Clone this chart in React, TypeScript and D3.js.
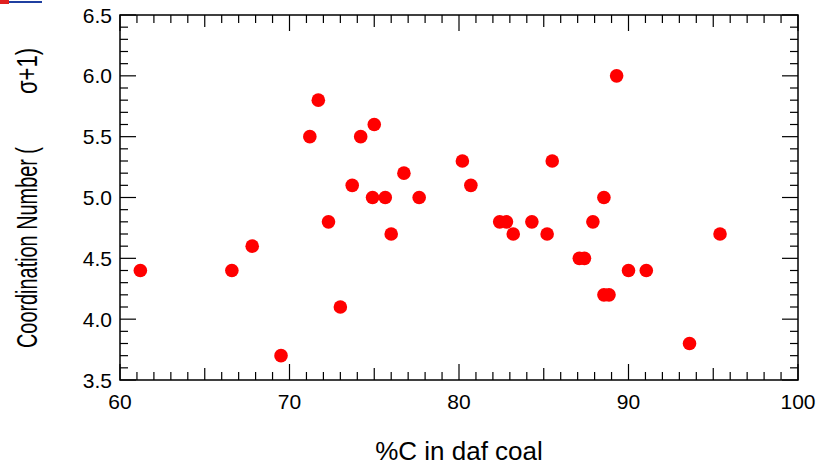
import React from "react";
import * as d3 from "d3";

const carbonPct = [61.2, 66.6, 67.8, 69.5, 71.2, 71.7, 72.3, 73.0, 73.7, 74.2, 75.0, 74.9, 75.65, 76.0, 76.75, 77.65,
  80.2, 80.7, 82.4, 82.8, 83.2, 84.3, 85.2, 85.5, 87.1, 87.4, 87.9, 88.55, 88.55, 88.85, 89.3, 90.0, 91.05, 93.6, 95.4];
const coordNumber = [4.4, 4.4, 4.6, 3.7, 5.5, 5.8, 4.8, 4.1, 5.1, 5.5, 5.6, 5.0, 5.0, 4.7, 5.2, 5.0,
  5.3, 5.1, 4.8, 4.8, 4.7, 4.8, 4.7, 5.3, 4.5, 4.5, 4.8, 5.0, 4.2, 4.2, 6.0, 4.4, 4.4, 3.8, 4.7];
const xTickLabels = [60, 70, 80, 90, 100];
const yTickLabels = [3.5, 4.0, 4.5, 5.0, 5.5, 6.0, 6.5];

const W = 818;
const H = 466;
const FONT = "'Liberation Sans', Arial, sans-serif";

export default function App() {
  const left = 120, right = 798, top = 15, bottom = 380;
  const x = d3.scaleLinear().domain([60, 100]).range([left, right]);
  const y = d3.scaleLinear().domain([3.5, 6.5]).range([bottom, top]);

  const xMinor = d3.range(60, 100.01, 1);
  const yMinor = d3.range(35, 65.01, 1).map((v) => v / 10);

  const xLen = (v: number) => (Math.round(v) % 10 === 0 ? 16 : Math.round(v) % 5 === 0 ? 12 : 8);
  const yLen = (v: number) => (Math.round(v * 10) % 5 === 0 ? 16 : 8);

  return (
    <svg width={W} height={H} style={{ position: "absolute", left: 0, top: 0, background: "#fff" }}>
      <rect x={0} y={0} width={W} height={H} fill="#fff" />
      {/* small artifact at top-left */}
      <rect x={0} y={0} width={9} height={4} fill="#e02020" />
      <line x1={9} y1={2} x2={42} y2={2} stroke="#1f3fa0" strokeWidth={2} />

      {/* ticks */}
      {xMinor.map((v) => (
        <g key={"xt" + v}>
          <line x1={x(v)} x2={x(v)} y1={bottom} y2={bottom - xLen(v)} stroke="#000" strokeWidth={1.2} />
          <line x1={x(v)} x2={x(v)} y1={top} y2={top + xLen(v)} stroke="#000" strokeWidth={1.2} />
        </g>
      ))}
      {yMinor.map((v) => (
        <g key={"yt" + v}>
          <line x1={left} x2={left + yLen(v)} y1={y(v)} y2={y(v)} stroke="#000" strokeWidth={1.2} />
          <line x1={right} x2={right - yLen(v)} y1={y(v)} y2={y(v)} stroke="#000" strokeWidth={1.2} />
        </g>
      ))}
      <rect x={left} y={top} width={right - left} height={bottom - top} fill="none" stroke="#000" strokeWidth={1.5} />

      {/* tick labels */}
      {xTickLabels.map((v) => (
        <text key={"xl" + v} x={x(v)} y={409} textAnchor="middle" fontFamily={FONT} fontSize={21} fill="#000">
          {v}
        </text>
      ))}
      {yTickLabels.map((v) => (
        <text key={"yl" + v} x={112} y={y(v)} dy="0.36em" textAnchor="end" fontFamily={FONT} fontSize={21} fill="#000">
          {v.toFixed(1)}
        </text>
      ))}

      {/* axis titles */}
      <text x={459} y={460} textAnchor="middle" fontFamily={FONT} fontSize={26} fill="#000">
        %C in daf coal
      </text>
      <text
        transform="translate(37,348) rotate(-90)"
        x={0}
        y={0}
        fontFamily={FONT}
        fontSize={30}
        textLength={201}
        lengthAdjust="spacingAndGlyphs"
        fill="#000"
      >
        Coordination Number (
      </text>
      <text
        transform="translate(37,94) rotate(-90)"
        x={0}
        y={0}
        fontFamily={FONT}
        fontSize={30}
        textLength={46}
        lengthAdjust="spacingAndGlyphs"
        fill="#000"
      >
        σ+1)
      </text>

      {/* points */}
      {carbonPct.map((c, i) => (
        <circle key={"p" + i} cx={x(c)} cy={y(coordNumber[i])} r={6.8} fill="#ff0000" />
      ))}
    </svg>
  );
}
